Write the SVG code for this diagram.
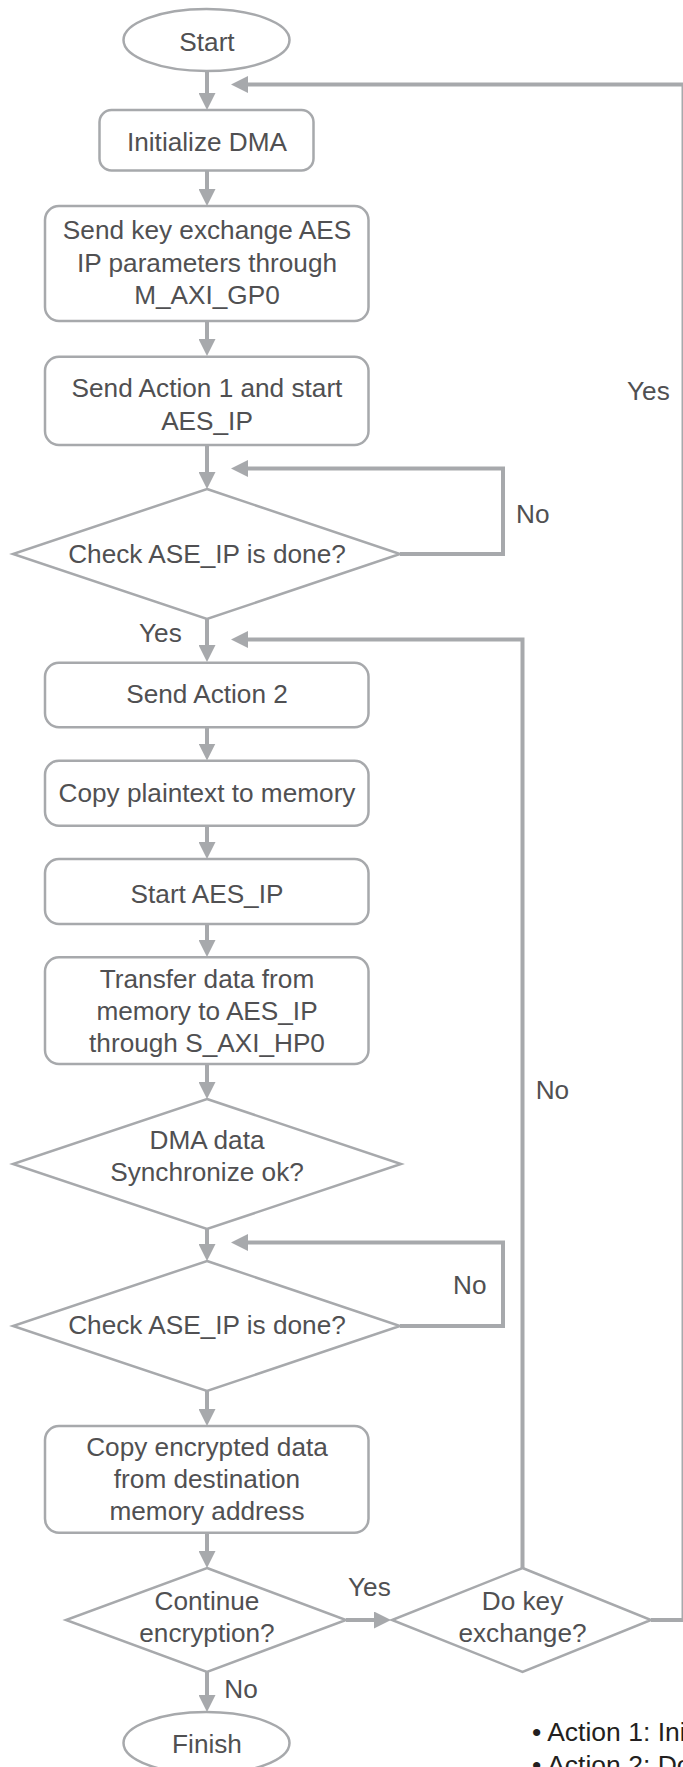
<svg xmlns="http://www.w3.org/2000/svg" width="683" height="1767" viewBox="0 0 683 1767">
<style>
.n{fill:#fff;stroke:#a7a9ac;stroke-width:2.5}
.t{font-family:"Liberation Sans",Arial,sans-serif;font-size:26.2px;fill:#505052;text-anchor:middle}
.l{font-family:"Liberation Sans",Arial,sans-serif;font-size:26.2px;fill:#505052}
.lg{font-family:"Liberation Sans",Arial,sans-serif;font-size:26.5px;fill:#231f20}
.c{fill:none;stroke:#a7a9ac;stroke-width:4;marker-end:url(#ah)}
</style>
<defs>
<marker id="ah" markerUnits="userSpaceOnUse" markerWidth="17" markerHeight="17" refX="1" refY="8.5" orient="auto">
<path d="M0,0 L17,8.5 L0,17 z" fill="#a7a9ac"/>
</marker>
</defs>
<rect width="683" height="1767" fill="#fff"/>
<g id="connectors">
<path class="c" d="M207,71 V94"/>
<path class="c" d="M207,170.5 V190"/>
<path class="c" d="M207,321 V340"/>
<path class="c" d="M207,445 V473"/>
<path class="c" d="M400,554 H503 V468.5 H247"/>
<path class="c" d="M207,619 V646"/>
<path class="c" d="M522.5,1568 V639.5 H247"/>
<path class="c" d="M207,727.5 V744.5"/>
<path class="c" d="M207,826 V843"/>
<path class="c" d="M207,924 V941"/>
<path class="c" d="M207,1064 V1083"/>
<path class="c" d="M207,1229 V1245"/>
<path class="c" d="M400,1326 H503 V1242.5 H247"/>
<path class="c" d="M207,1391 V1410"/>
<path class="c" d="M207,1533 V1552"/>
<path class="c" d="M346,1620 H375"/>
<path class="c" d="M207,1672 V1696"/>
<path class="c" d="M651,1620 H683.5 V84.5 H247"/>
</g>
<g id="edge-labels">
<text class="l" x="627" y="400">Yes</text>
<text class="l" x="516" y="522.7">No</text>
<text class="l" x="139" y="641.7">Yes</text>
<text class="l" x="535.7" y="1099">No</text>
<text class="l" x="453" y="1294">No</text>
<text class="l" x="348" y="1596">Yes</text>
<text class="l" x="224.3" y="1698">No</text>
</g>
<g id="start"><ellipse class="n" cx="206.5" cy="40" rx="83" ry="31"/><text class="t" x="207" y="50.5">Start</text></g>
<g id="init-dma"><rect class="n" x="99.5" y="110" width="214" height="60.5" rx="12"/><text class="t" x="207" y="150.5">Initialize DMA</text></g>
<g id="send-key"><rect class="n" x="45" y="206" width="323.5" height="115" rx="14"/><text class="t" x="207" y="239.3">Send key exchange AES</text><text class="t" x="207" y="271.8">IP parameters through</text><text class="t" x="207" y="304.3">M_AXI_GP0</text></g>
<g id="send-action1"><rect class="n" x="45" y="356.7" width="323.5" height="88.3" rx="14"/><text class="t" x="207" y="397.3">Send Action 1 and start</text><text class="t" x="207" y="430">AES_IP</text></g>
<g id="check1"><polygon class="n" points="207,489 400,554 207,619 13,554"/><text class="t" x="207" y="562.7">Check ASE_IP is done?</text></g>
<g id="send-action2"><rect class="n" x="45" y="662.7" width="323.5" height="64.6" rx="14"/><text class="t" x="207" y="702.7">Send Action 2</text></g>
<g id="copy-plain"><rect class="n" x="45" y="760.7" width="323.5" height="65" rx="14"/><text class="t" x="207" y="801.7">Copy plaintext to memory</text></g>
<g id="start-aes"><rect class="n" x="45" y="859" width="323.5" height="65" rx="14"/><text class="t" x="207" y="902.7">Start AES_IP</text></g>
<g id="transfer"><rect class="n" x="45" y="957.3" width="323.5" height="106.7" rx="14"/><text class="t" x="207" y="987.7">Transfer data from</text><text class="t" x="207" y="1020">memory to AES_IP</text><text class="t" x="207" y="1052">through S_AXI_HP0</text></g>
<g id="dma-sync"><polygon class="n" points="207,1099 401,1164 207,1229 13,1164"/><text class="t" x="207" y="1149.3">DMA data</text><text class="t" x="207" y="1181">Synchronize ok?</text></g>
<g id="check2"><polygon class="n" points="207,1261 400,1326 207,1391 13,1326"/><text class="t" x="207" y="1334">Check ASE_IP is done?</text></g>
<g id="copy-enc"><rect class="n" x="45" y="1426" width="323.5" height="106.7" rx="14"/><text class="t" x="207" y="1456">Copy encrypted data</text><text class="t" x="207" y="1488.3">from destination</text><text class="t" x="207" y="1519.5">memory address</text></g>
<g id="continue"><polygon class="n" points="207,1568 346,1620 207,1672 66,1620"/><text class="t" x="207" y="1610">Continue</text><text class="t" x="207" y="1642">encryption?</text></g>
<g id="do-key"><polygon class="n" points="522.5,1568 651,1620 522.5,1672 392,1620"/><text class="t" x="522.5" y="1610">Do key</text><text class="t" x="522.5" y="1642">exchange?</text></g>
<g id="finish"><ellipse class="n" cx="206.5" cy="1743" rx="83" ry="31"/><text class="t" x="207" y="1752.7">Finish</text></g>
<g id="legend"><text class="lg" x="532" y="1740.7">• Action 1: Ini</text><text class="lg" x="532" y="1774">• Action 2: Do</text></g>
</svg>
